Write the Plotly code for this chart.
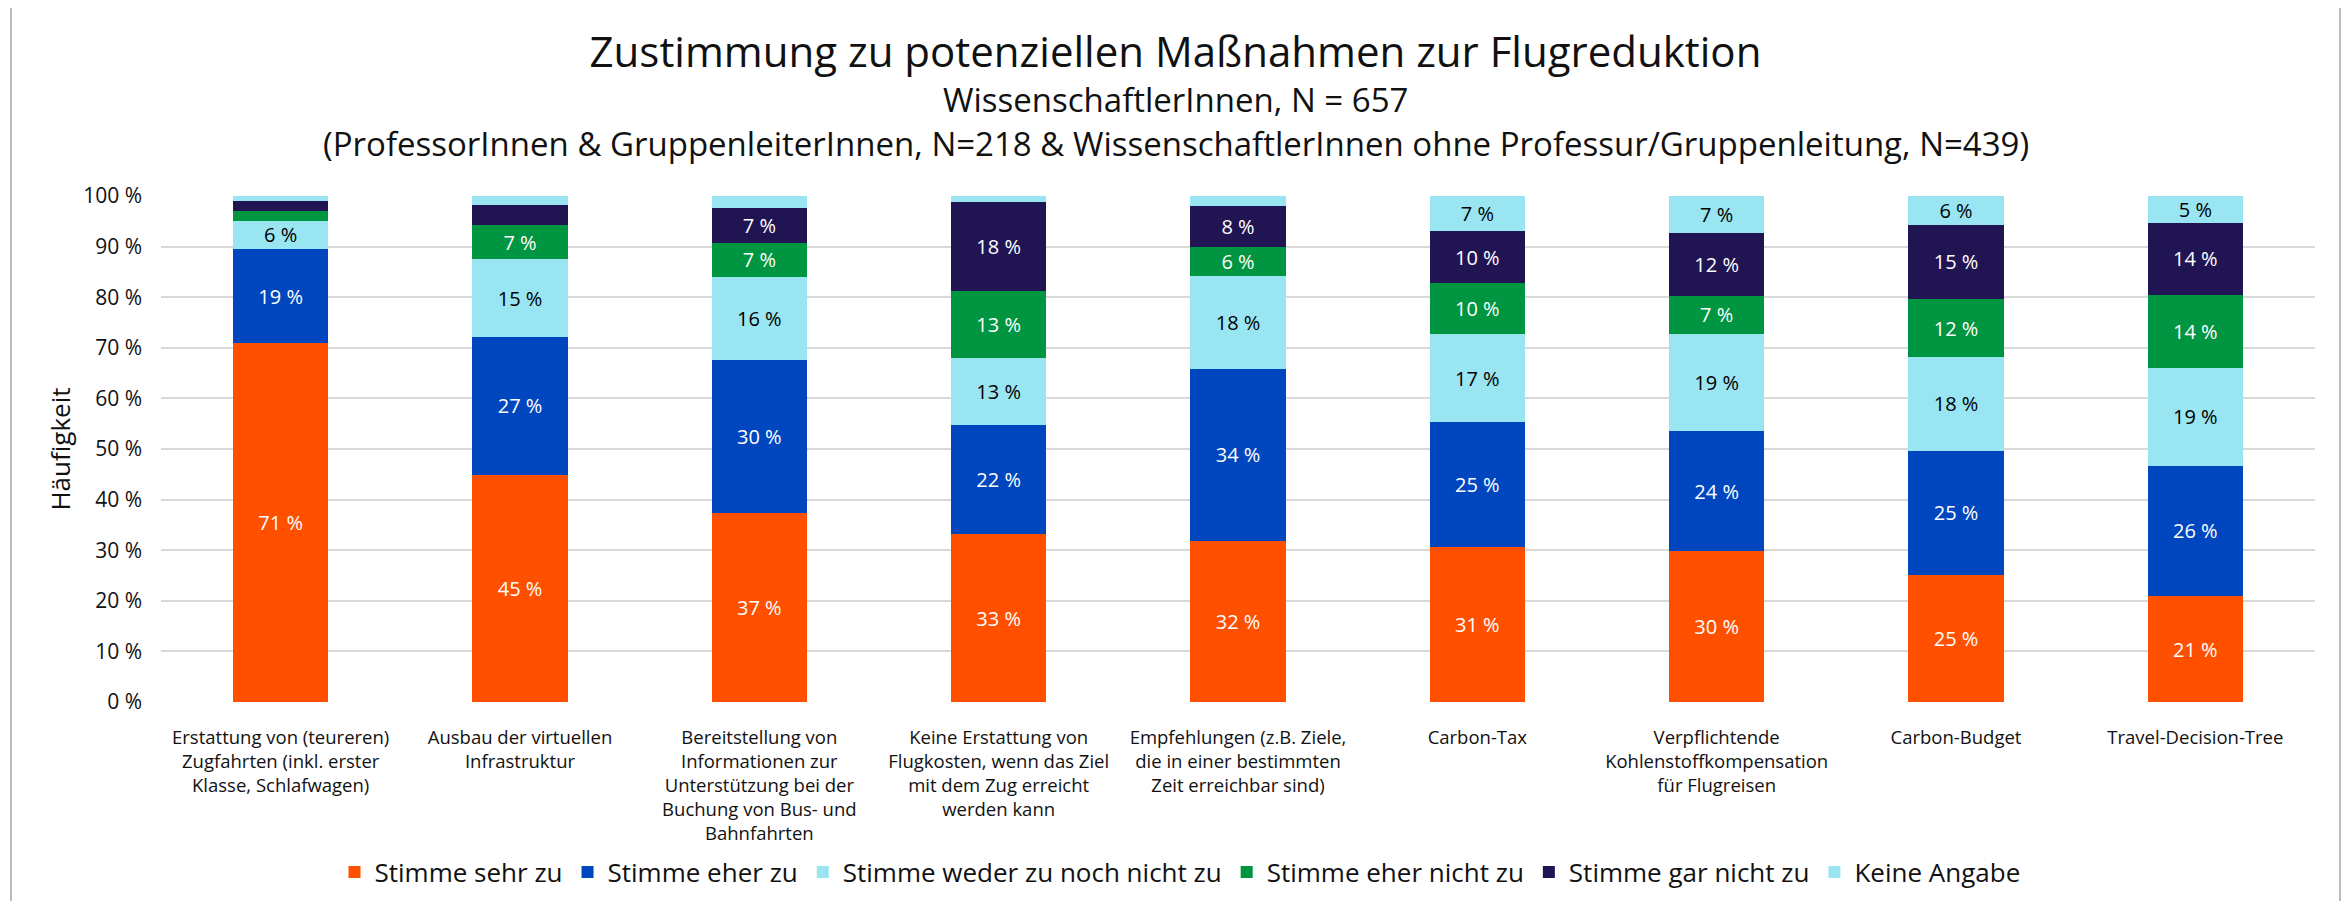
import plotly.graph_objects as go

# ---------------- data ----------------
categories = [
    "Erstattung von (teureren)<br>Zugfahrten (inkl. erster<br>Klasse, Schlafwagen)",
    "Ausbau der virtuellen<br>Infrastruktur",
    "Bereitstellung von<br>Informationen zur<br>Unterstützung bei der<br>Buchung von Bus- und<br>Bahnfahrten",
    "Keine Erstattung von<br>Flugkosten, wenn das Ziel<br>mit dem Zug erreicht<br>werden kann",
    "Empfehlungen (z.B. Ziele,<br>die in einer bestimmten<br>Zeit erreichbar sind)",
    "Carbon-Tax",
    "Verpflichtende<br>Kohlenstoffkompensation<br>für Flugreisen",
    "Carbon-Budget",
    "Travel-Decision-Tree",
]
stimme_sehr_zu = [70.9, 44.9, 37.4, 33.2, 31.9, 30.7, 29.8, 25.1, 20.9]
stimme_eher_zu = [18.6, 27.2, 30.2, 21.6, 33.9, 24.6, 23.7, 24.6, 25.8]
weder_noch = [5.6, 15.4, 16.4, 13.1, 18.3, 17.4, 19.3, 18.4, 19.4]
eher_nicht = [2.0, 6.7, 6.8, 13.4, 5.9, 10.1, 7.4, 11.6, 14.4]
gar_nicht = [1.9, 4.0, 6.9, 17.6, 8.0, 10.2, 12.4, 14.6, 14.1]
keine_angabe = [1.0, 1.8, 2.3, 1.1, 2.0, 7.0, 7.4, 5.7, 5.4]

series_names = ["Stimme sehr zu", "Stimme eher zu", "Stimme weder zu noch nicht zu",
                "Stimme eher nicht zu", "Stimme gar nicht zu", "Keine Angabe"]
series_values = [stimme_sehr_zu, stimme_eher_zu, weder_noch, eher_nicht, gar_nicht, keine_angabe]
y_ticks = [0, 10, 20, 30, 40, 50, 60, 70, 80, 90, 100]
y_tick_labels = [f"{v} %" for v in y_ticks]

title_text = "Zustimmung zu potenziellen Maßnahmen zur Flugreduktion"
subtitle_1 = "WissenschaftlerInnen, N = 657"
subtitle_2 = ("(ProfessorInnen & GruppenleiterInnen, N=218 & WissenschaftlerInnen "
              "ohne Professur/Gruppenleitung, N=439)")

# ---------------- style ----------------
colors = ["#FF5000", "#0046BE", "#9AE5F2", "#009540", "#211452", "#9AE5F2"]
text_colors = ["white", "white", "black", "white", "white", "black"]
FONT = "Open Sans"
TXT = "#111111"

# the page body adds an 8px margin; size the figure so it fits the window
OFF = 8
W, H = 2351 - 2 * OFF, 909 - 2 * OFF
PW, PH = 2154, 506
ML, MT = 161 - OFF, 196 - OFF
MR, MB = W - ML - PW, H - MT - PH
CENTER_X = 1175.5


def px_to_paper_x(px):
    return (px - OFF - ML) / PW


def px_to_paper_y(py):
    return (MT + PH - (py - OFF)) / PH


fig = go.Figure()
for name, vals, col, tcol in zip(series_names, series_values, colors, text_colors):
    labels = [f"{v:.0f} %" if v >= 5 else "" for v in vals]
    fig.add_trace(go.Bar(
        name=name, x=categories, y=vals, marker=dict(color=col, line=dict(width=0)),
        text=labels, textposition="inside", insidetextanchor="middle", textangle=0,
        constraintext="none",
        insidetextfont=dict(family=FONT, size=20, color=tcol),
        hovertemplate="%{y:.1f} %<extra>" + name + "</extra>",
    ))

fig.update_layout(
    template="none",
    width=W, height=H,
    barmode="stack", bargap=0.602,
    paper_bgcolor="white", plot_bgcolor="white",
    margin=dict(l=ML, r=MR, t=MT, b=MB, autoexpand=False),
    font=dict(family=FONT, color=TXT),
    title=dict(text=title_text, x=(CENTER_X - OFF) / W, xref="container", xanchor="center",
               y=1 - (52 - OFF) / H, yref="container", yanchor="middle",
               font=dict(family=FONT, size=42, color=TXT)),
    showlegend=True,
    legend=dict(orientation="h", x=px_to_paper_x(1180), xanchor="center",
                y=px_to_paper_y(872), yanchor="middle",
                font=dict(family=FONT, size=26, color=TXT),
                traceorder="normal", bgcolor="rgba(0,0,0,0)"),
    xaxis=dict(type="category", showgrid=False, zeroline=False, showline=False,
               ticks="", ticklabelstandoff=22,
               tickfont=dict(family=FONT, size=18.5, color=TXT), automargin=False),
    yaxis=dict(range=[0, 100], tickmode="array", tickvals=y_ticks, ticktext=y_tick_labels,
               showgrid=True, gridcolor="#D9D9D9", gridwidth=2,
               zeroline=False, showline=False, ticks="", ticklabelstandoff=18,
               tickfont=dict(family=FONT, size=21, color=TXT),
               title=dict(text="Häufigkeit", standoff=5,
                          font=dict(family=FONT, size=26, color=TXT)),
               automargin=False),
)

fig.add_annotation(text=subtitle_1, x=px_to_paper_x(CENTER_X), xref="paper", xanchor="center",
                   y=px_to_paper_y(100), yref="paper", yanchor="middle",
                   showarrow=False, font=dict(family=FONT, size=33, color=TXT))
fig.add_annotation(text=subtitle_2, x=px_to_paper_x(CENTER_X), xref="paper", xanchor="center",
                   y=px_to_paper_y(144), yref="paper", yanchor="middle",
                   showarrow=False, font=dict(family=FONT, size=33, color=TXT))

# outer chart frame
fig.add_shape(type="rect", xref="paper", yref="paper",
              x0=px_to_paper_x(11), x1=px_to_paper_x(2340),
              y0=px_to_paper_y(930), y1=px_to_paper_y(6),
              line=dict(color="#A6A6A6", width=1.5), fillcolor="rgba(0,0,0,0)",
              layer="below")

fig.write_html("out.html")
